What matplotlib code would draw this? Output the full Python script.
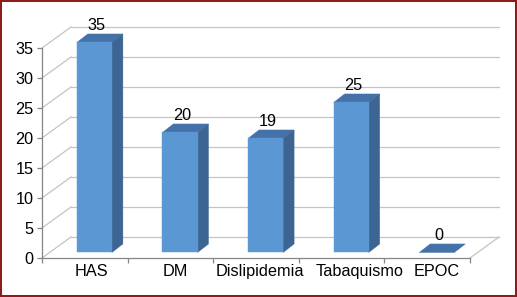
"""Oblique 3D-style bar chart of risk factor counts."""

import matplotlib

matplotlib.use("Agg")
import matplotlib.pyplot as plt
from matplotlib.patches import Polygon, Rectangle
from matplotlib.transforms import ScaledTranslation

categories = ["HAS", "DM", "Dislipidemia", "Tabaquismo", "EPOC"]
values = [35, 20, 19, 25, 0]
y_ticks = [0, 5, 10, 15, 20, 25, 30, 35]

plt.rcParams["font.family"] = ["Liberation Sans", "DejaVu Sans"]

W, H = 517, 297
FONT = 11.7
GRID = "#c4c4c4"
AXIS = "#868686"
FRONT, SIDE, TOP = "#5b97d2", "#3c6594", "#4471a8"

# oblique projection (data units)
DEPTH_X, DEPTH_Y = 0.339, 3.5
BAR_W, BAR_SHIFT, BAR_LIFT = 0.41, 0.112, 0.92
BAR_DX, BAR_DY = 0.128, 1.42
LABEL_NUDGE_PX = [7, 5, 3.5, 18, 9]

fig = plt.figure(figsize=(W / 100, H / 100), dpi=100)
ax = fig.add_axes([42 / W, 39 / H, 428 / W, 210 / H])
n = len(categories)
ax.set_xlim(0, n)
ax.set_ylim(0, y_ticks[-1])

# walls: back gridlines, left-wall diagonals, floor right edge
for v in y_ticks:
    ax.plot([DEPTH_X, n + DEPTH_X], [v + DEPTH_Y] * 2, color=GRID, lw=0.9,
            clip_on=False, zorder=1)
    ax.plot([0, DEPTH_X], [v, v + DEPTH_Y], color=GRID, lw=0.9,
            clip_on=False, zorder=1)
ax.plot([n, n + DEPTH_X], [0, DEPTH_Y], color=GRID, lw=0.9, clip_on=False, zorder=1)

for i, v in enumerate(values):
    x0 = i + 0.5 + BAR_SHIFT - BAR_W / 2
    x1 = x0 + BAR_W
    b = BAR_LIFT
    t = b + v
    top = [(x0, t), (x1, t), (x1 + BAR_DX, t + BAR_DY), (x0 + BAR_DX, t + BAR_DY)]
    ax.add_patch(Polygon(top, closed=True, fc=TOP, ec=TOP, lw=0.3,
                         clip_on=False, zorder=3))
    if v > 0:
        side = [(x1, b), (x1 + BAR_DX, b + BAR_DY), (x1 + BAR_DX, t + BAR_DY), (x1, t)]
        ax.add_patch(Polygon(side, closed=True, fc=SIDE, ec=SIDE, lw=0.3,
                             clip_on=False, zorder=3))
        ax.add_patch(Rectangle((x0, b), BAR_W, v, fc=FRONT, ec=FRONT, lw=0.3,
                               clip_on=False, zorder=4))
    ax.annotate(str(v), (x0 + BAR_W / 2 + 0.025, t + BAR_DY), xytext=(0, 2.5),
                textcoords="offset points", ha="center", va="baseline",
                fontsize=FONT, color="black", annotation_clip=False, zorder=5)

for side_name in ("top", "right"):
    ax.spines[side_name].set_visible(False)
for side_name in ("left", "bottom"):
    ax.spines[side_name].set_color(AXIS)
    ax.spines[side_name].set_linewidth(0.9)
    ax.spines[side_name].set_zorder(2)

ax.set_yticks(y_ticks)
ax.tick_params(axis="y", direction="out", length=3.5, width=0.9, color=AXIS,
               pad=2.5, labelsize=FONT, labelcolor="black")
ax.set_xticks(range(n + 1))
ax.set_xticklabels([])
ax.tick_params(axis="x", which="major", direction="out", length=3.5, width=0.9,
               color=AXIS)
ax.set_xticks([i + 0.5 for i in range(n)], minor=True)
ax.set_xticklabels(categories, minor=True)
ax.tick_params(axis="x", which="minor", length=0, pad=4.5, labelsize=FONT,
               labelcolor="black")
for label, nudge in zip(ax.get_xticklabels(minor=True), LABEL_NUDGE_PX):
    label.set_transform(label.get_transform()
                        + ScaledTranslation(nudge / 100, 0, fig.dpi_scale_trans))

ax.patch.set_visible(False)
fig.patches.append(Rectangle((0, 0), 1, 1, transform=fig.transFigure, fill=False,
                             ec="#8c1d1d", lw=2.9, zorder=10))

fig.savefig("out.png", dpi=100)
